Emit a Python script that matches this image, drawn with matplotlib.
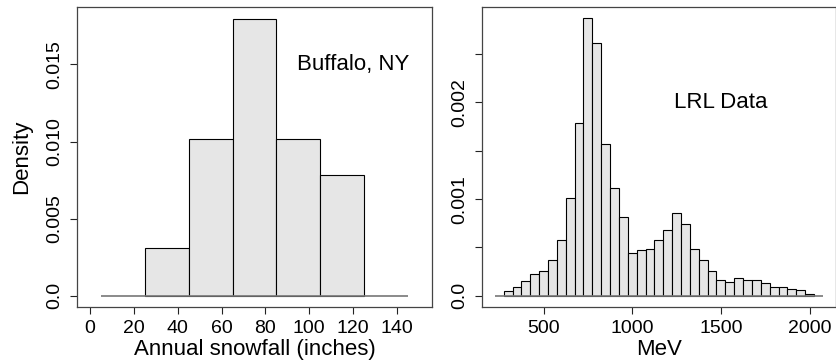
import matplotlib.pyplot as plt
import numpy as np

plt.rcParams['font.family'] = ['Liberation Sans', 'DejaVu Sans']

# Buffalo snowfall histogram (density)
snow_bins = [25, 45, 65, 85, 105, 125]
snow_density = [0.00312, 0.01016, 0.01797, 0.01016, 0.00781]

# LRL data histogram (density), 50 MeV bins from 275 to 2025
lrl_bins = np.arange(275, 2026, 50)
lrl_density = [0.055e-3, 0.093e-3, 0.152e-3, 0.221e-3, 0.262e-3, 0.366e-3,
               0.576e-3, 1.014e-3, 1.783e-3, 2.869e-3, 2.610e-3, 1.572e-3,
               1.114e-3, 0.810e-3, 0.438e-3, 0.472e-3, 0.486e-3, 0.576e-3,
               0.679e-3, 0.852e-3, 0.738e-3, 0.483e-3, 0.366e-3, 0.252e-3,
               0.169e-3, 0.148e-3, 0.183e-3, 0.159e-3, 0.162e-3, 0.128e-3,
               0.090e-3, 0.090e-3, 0.076e-3, 0.062e-3, 0.024e-3]

FILL = '#e6e6e6'
BOX = '#444444'


def draw_hist(ax, bins, dens):
    bins = np.asarray(bins, dtype=float)
    w = np.diff(bins)
    ax.bar(bins[:-1], dens, width=w, align='edge', color=FILL,
           edgecolor='black', linewidth=0.8, zorder=2)
    ax.hlines(0, bins[0] - w[0], bins[-1] + w[-1], color='#777777',
              linewidth=1.2, zorder=3)
    for s in ax.spines.values():
        s.set_color(BOX)
        s.set_linewidth(0.9)
    ax.tick_params(direction='out', length=5, width=0.8, color='#222222',
                   labelsize=14)
    ax.tick_params(axis='x', pad=4)
    ax.tick_params(axis='y', pad=5)
    for lab in ax.get_yticklabels():
        lab.set_rotation(90)
        lab.set_va('center')


fig = plt.figure(figsize=(8.36, 3.6), dpi=100)
ax1 = fig.add_axes([0.0921, 0.1472, 0.4246, 0.8333])
ax2 = fig.add_axes([0.5762, 0.1472, 0.4238, 0.8333])

# left panel
ax1.set_xticks([0, 20, 40, 60, 80, 100, 120, 140])
ax1.set_yticks([0, 0.005, 0.010, 0.015])
ax1.set_yticklabels(['0.0', '0.005', '0.010', '0.015'])
draw_hist(ax1, snow_bins, snow_density)
ax1.set_xlim(-6, 156)
ax1.set_ylim(-0.00072, 0.01872)
ax1.set_xlabel('Annual snowfall (inches)', fontsize=16, labelpad=2)
ax1.set_ylabel('Density', fontsize=16, labelpad=10)
ax1.text(120, 0.015, 'Buffalo, NY', fontsize=16, ha='center', va='center')

# right panel
ax2.set_xticks([500, 1000, 1500, 2000])
ax2.set_yticks([0, 0.0005, 0.001, 0.0015, 0.002, 0.0025])
ax2.set_yticklabels(['0.0', '', '0.001', '', '0.002', ''])
draw_hist(ax2, lrl_bins, lrl_density)
ax2.set_xlim(151, 2149)
ax2.set_ylim(-0.000115, 0.002984)
ax2.set_xlabel('MeV', fontsize=16, labelpad=2)
ax2.text(1500, 0.002, 'LRL Data', fontsize=16, ha='center', va='center')

fig.savefig('out.png', dpi=100)
